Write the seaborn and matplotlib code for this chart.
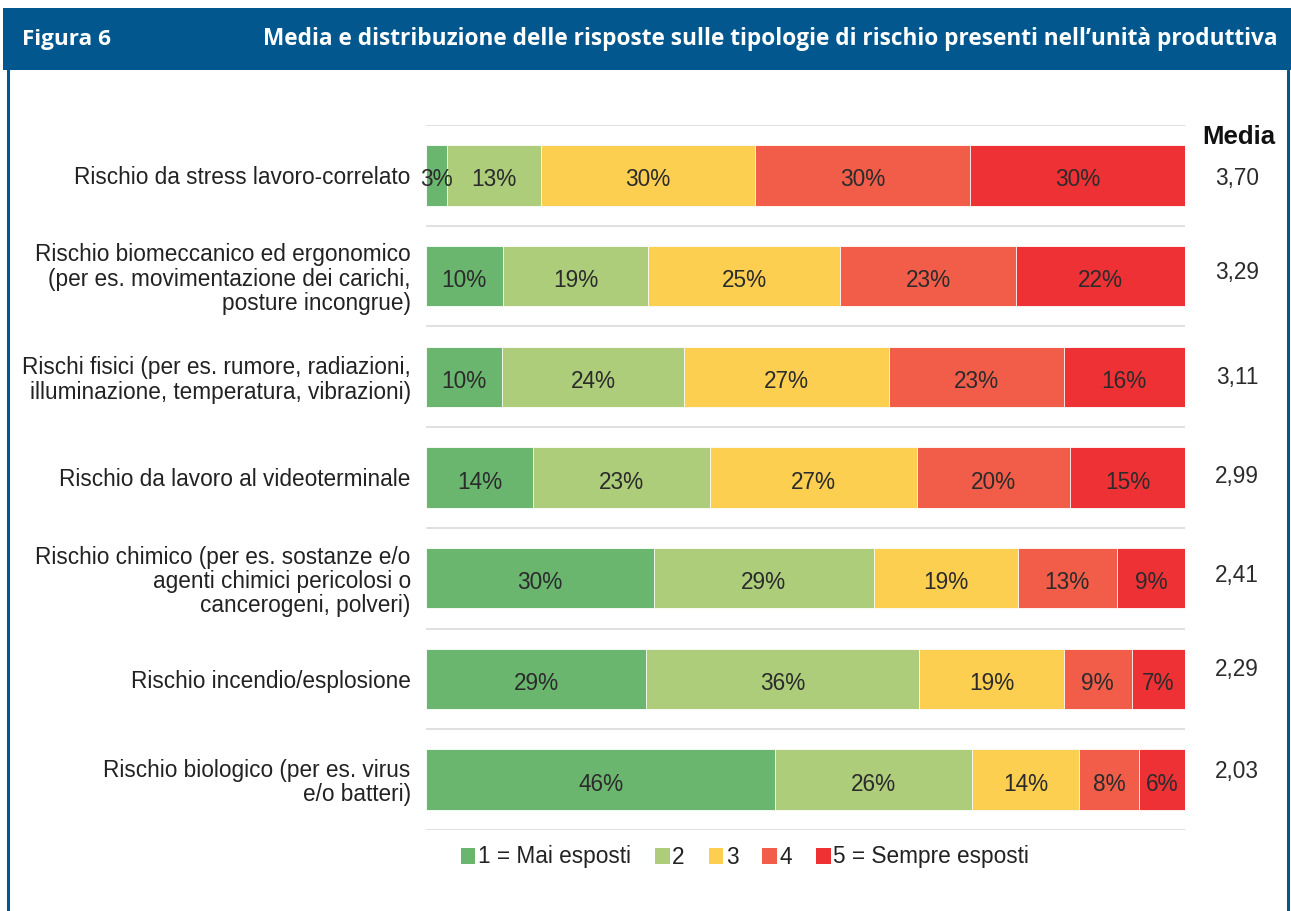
import matplotlib
matplotlib.use("Agg")
import matplotlib.pyplot as plt
import seaborn as sns
import pandas as pd
import numpy as np
from matplotlib.patches import Rectangle, Patch
from matplotlib.lines import Line2D

# ---- data ----
categories = [
    "Rischio da stress lavoro-correlato",
    "Rischio biomeccanico ed ergonomico\n(per es. movimentazione dei carichi,\nposture incongrue)",
    "Rischi fisici (per es. rumore, radiazioni,\nilluminazione, temperatura, vibrazioni)",
    "Rischio da lavoro al videoterminale",
    "Rischio chimico (per es. sostanze e/o\nagenti chimici pericolosi o\ncancerogeni, polveri)",
    "Rischio incendio/esplosione",
    "Rischio biologico (per es. virus\ne/o batteri)",
]
level1 = [3, 10, 10, 14, 30, 29, 46]
level2 = [13, 19, 24, 23, 29, 36, 26]
level3 = [30, 25, 27, 27, 19, 19, 14]
level4 = [30, 23, 23, 20, 13, 9, 8]
level5 = [30, 22, 16, 15, 9, 7, 6]
media = ["3,70", "3,29", "3,11", "2,99", "2,41", "2,29", "2,03"]
legend_labels = ["1 = Mai esposti", "2", "3", "4", "5 = Sempre esposti"]
colors = ["#6BB66F", "#ADCD7A", "#FCCF50", "#F25D4A", "#EE3135"]

levels = [level1, level2, level3, level4, level5]

# vertical nudges of the "Media" values relative to their bar (layout only)
media_nudge = [0.03, -0.04, 0.01, -0.01, -0.03, -0.09, -0.08]

# build long table with normalized cumulative shares
vals = np.array(levels, dtype=float)  # shape (5, n)
shares = vals / vals.sum(axis=0) * 100
cum = np.cumsum(shares, axis=0)
rows = []
for li in range(5):
    for ci, cat in enumerate(categories):
        rows.append({"cat": cat, "level": li, "cum": cum[li, ci],
                     "share": shares[li, ci], "label": levels[li][ci]})
df = pd.DataFrame(rows)

# ---- figure ----
W, H = 1291, 911
fig = plt.figure(figsize=(W / 100, H / 100), dpi=100)
sns.set_style("white")
plt.rcParams["font.family"] = ["Liberation Sans", "DejaVu Sans"]

ax = fig.add_axes([426 / W, 1 - 830 / H, (1185 - 426) / W, (830 - 125) / H])

for li in range(4, -1, -1):
    sub = df[df["level"] == li]
    sns.barplot(data=sub, x="cum", y="cat", order=categories, color=colors[li],
                saturation=1, width=0.6, ax=ax, edgecolor="white",
                linewidth=0.6, errorbar=None)

# percent labels
for _, r in df.iterrows():
    ci = categories.index(r["cat"])
    xc = r["cum"] - r["share"] / 2
    ax.text(xc, ci + 0.045, f"{r['label']}%", ha="center", va="center",
            fontsize=16.3, color="#2b2b2b")

ax.set_xlim(0, 100)
ax.set_ylim(len(categories) - 0.5, -0.5)
ax.set_xlabel("")
ax.set_ylabel("")
ax.set_xticks([])
for s in ax.spines.values():
    s.set_visible(False)
ax.tick_params(axis="y", length=0, pad=11, labelsize=16.3, labelcolor="#222222")
for t in ax.get_yticklabels():
    t.set_horizontalalignment("right")
    t.set_multialignment("right")
    t.set_linespacing(1.07)

for yb in np.arange(-0.5, len(categories), 1.0):
    ax.axhline(yb, color="#DADADA", linewidth=1.2, zorder=0)

# Media column
fig.text(1239 / W, 1 - 137 / H, "Media", ha="center", va="center",
         fontsize=18.5, fontweight="bold", color="#111111")
for ci, m in enumerate(media):
    ax.annotate(m, xy=(1237 / W, ci + media_nudge[ci]),
                xycoords=("figure fraction", "data"),
                ha="center", va="center", fontsize=16.3, color="#2b2b2b")

# legend
handles = [Patch(facecolor=c, edgecolor="none") for c in colors]
fig.legend(handles, legend_labels, loc="center",
           bbox_to_anchor=(745 / W, 1 - 857 / H), ncol=5, frameon=False,
           fontsize=16.3, handlelength=0.65, handleheight=0.7,
           handletextpad=0.12, columnspacing=1.05, labelcolor="#222222")

# header band and frame
blue = "#02588E"
fig.patches.append(Rectangle((3 / W, 1 - 70 / H), 1 - 3 / W, 62 / H,
                             transform=fig.transFigure, facecolor=blue,
                             edgecolor="none", zorder=0))
fig.lines.append(Line2D([8 / W, 8 / W], [0, 1 - 70 / H], transform=fig.transFigure,
                        color=blue, linewidth=2.2))
fig.lines.append(Line2D([1288 / W, 1288 / W], [0, 1 - 70 / H], transform=fig.transFigure,
                        color=blue, linewidth=2.2))
fig.text(22 / W, 1 - 39 / H, "Figura 6", ha="left", va="center", color="white",
         fontsize=16.2, fontweight="bold", family=["Open Sans", "DejaVu Sans"])
fig.text(1278 / W, 1 - 39 / H,
         "Media e distribuzione delle risposte sulle tipologie di rischio presenti nell\u2019unit\u00e0 produttiva",
         ha="right", va="center", color="white", fontsize=16.3, fontweight="bold",
         family=["Open Sans", "DejaVu Sans"])

fig.savefig("out.png", dpi=100, facecolor="white")
